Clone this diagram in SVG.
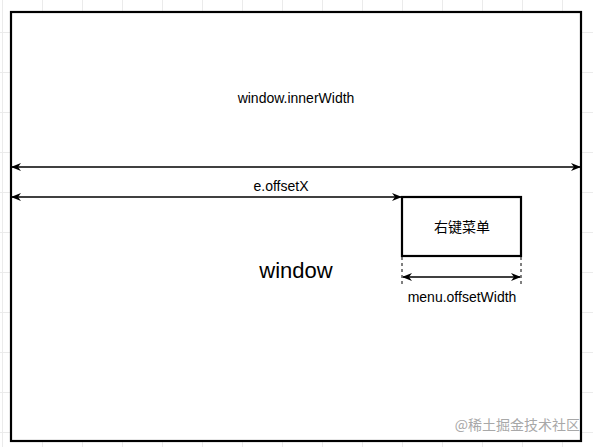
<svg xmlns="http://www.w3.org/2000/svg" width="593" height="447" viewBox="0 0 593 447">
<style>
.grid{stroke:#ebebeb;stroke-width:1;fill:none}
.box{fill:#fff;stroke:#000;stroke-width:2.2}
.conn{stroke:#000;stroke-width:1.3;fill:none}
.dash{stroke:#000;stroke-width:1;stroke-dasharray:3 3;fill:none}
.t{font-family:"Liberation Sans",Arial,"Noto Sans CJK SC",sans-serif;fill:#000;text-anchor:middle}
</style>
<defs>
<marker id="ah" viewBox="0 0 10 10" refX="9" refY="5" markerWidth="10" markerHeight="10" markerUnits="userSpaceOnUse" orient="auto-start-reverse">
<path d="M0,1 L10,5 L0,9 L3,5 Z" fill="#000"/>
</marker>
</defs>
<rect width="593" height="447" fill="#fff"/>
<g id="grid" class="grid">
<path d="M2.5,0V447M42.5,0V447M82.5,0V447M122.5,0V447M162.5,0V447M202.5,0V447M242.5,0V447M282.5,0V447M322.5,0V447M362.5,0V447M402.5,0V447M442.5,0V447M482.5,0V447M522.5,0V447M562.5,0V447"/>
<path d="M0,32.5H593M0,72.5H593M0,112.5H593M0,152.5H593M0,192.5H593M0,232.5H593M0,272.5H593M0,312.5H593M0,352.5H593M0,392.5H593M0,432.5H593"/>
</g>
<g id="window">
<rect class="box" x="11" y="12" width="570" height="429"/>
<text class="t" x="296" y="278" font-size="22">window</text>
</g>
<g id="menu">
<rect class="box" x="402" y="197" width="119" height="59"/>
<text class="t" x="462" y="232" font-size="14">右键菜单</text>
</g>
<g id="connectors">
<line class="conn" x1="12" y1="167" x2="580" y2="167" marker-start="url(#ah)" marker-end="url(#ah)"/>
<line class="conn" x1="12" y1="197" x2="401" y2="197" marker-start="url(#ah)" marker-end="url(#ah)"/>
<line class="dash" x1="402" y1="257" x2="402" y2="284"/>
<line class="dash" x1="521" y1="257" x2="521" y2="284"/>
<line class="conn" x1="403" y1="277" x2="520" y2="277" marker-start="url(#ah)" marker-end="url(#ah)"/>
</g>
<g id="labels">
<text class="t" x="296" y="103" font-size="14">window.innerWidth</text>
<text class="t" x="281" y="191" font-size="14">e.offsetX</text>
<text class="t" x="462" y="302" font-size="14">menu.offsetWidth</text>
</g>
<text x="580" y="430" font-size="14" fill="#a8a8a8" text-anchor="end" font-family="'Noto Sans CJK SC',sans-serif">@稀土掘金技术社区</text>
</svg>
